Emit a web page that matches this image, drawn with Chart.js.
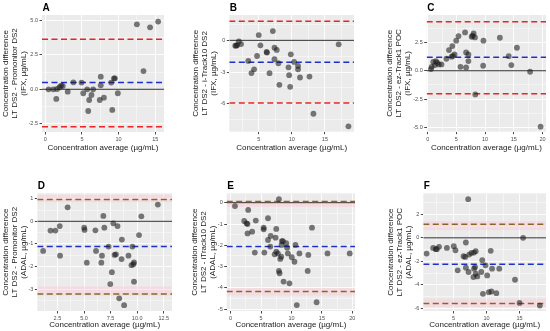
<!DOCTYPE html>
<html>
<head>
<meta charset="utf-8">
<script src="https://cdn.jsdelivr.net/npm/chart.js@4.4.1/dist/chart.umd.min.js"></script>
<style>
  body { margin: 0; background: #fff; }
  #wrap { position: relative; width: 550px; height: 331px; overflow: hidden; }
  canvas { position: absolute; }
</style>
</head>
<body>
<div id="wrap">
  <canvas id="panelA"></canvas>
  <canvas id="panelB"></canvas>
  <canvas id="panelC"></canvas>
  <canvas id="panelD"></canvas>
  <canvas id="panelE"></canvas>
  <canvas id="panelF"></canvas>
</div>
<script>
// ---- data ----
// A: LT DS2 - Promonitor DS2 (IFX)
const aX = [0.45, 1.1, 1.6, 1.5, 1.94, 2.16, 2.39, 3.06, 3.83, 4.95, 5.18, 5.72, 5.86, 5.99, 6.3, 6.53, 7.43, 7.57, 7.57, 8.0, 9.0, 9.14, 9.37, 9.5, 9.9, 12.5, 13.4, 14.3, 15.4];
const aY = [0, 0, 0.02, -0.7, 0.15, 0.27, 0.24, -0.17, 0.51, 0.49, -0.29, 0, -1.58, -0.78, -0.41, 0, -0.78, 0.92, 0.29, -0.61, 0.49, -1.5, 0.8, 0.8, -0.29, 4.73, 1.33, 4.51, 4.93];
const aLoa = [3.64, 0.49, -2.72]; // upper, mean, lower

// B: LT DS2 - i-Track10 DS2 (IFX)
const bX = [1.45, 1.6, 1.75, 2.0, 2.33, 3.42, 3.9, 4.3, 4.75, 5.0, 5.25, 6.19, 6.24, 6.63, 7.13, 7.38, 7.38, 7.72, 7.97, 8.12, 9.5, 9.6, 9.75, 9.85, 10.35, 10.94, 10.94, 11.24, 12.67, 13.27, 17.08, 18.56];
const bY = [-0.5, -0.5, -0.45, -0.1, -0.35, -1.95, -3.1, -2.74, -1.48, 0.5, -0.47, -1.1, -1.16, -3.11, 0.88, -0.69, -1.79, -0.91, -2.17, -4.21, -2.55, -3.3, -4.4, -1.32, -2.04, -2.42, -2.74, -3.52, -3.43, -6.95, -0.38, -8.14];
const bLoa = [1.82, -2.07, -5.94];

// C: LT DS2 - ez-Track1 POC (IFX)
const cX = [0.57, 0.69, 0.97, 1.26, 1.43, 1.66, 1.94, 2.4, 3.26, 3.71, 4.17, 4.29, 4.4, 4.69, 4.97, 5.37, 5.71, 6.51, 6.69, 6.69, 7.09, 7.09, 7.66, 7.83, 8.0, 8.23, 8.29, 9.66, 9.71, 12.57, 14.11, 14.57, 15.54, 17.83, 19.66];
const cY = [0.15, 0.35, 0.79, 0.5, 0.85, 0.71, 0.56, 0.56, 1.06, 1.82, 1.24, 2.18, 1.32, 1.44, 2.65, 3.06, 0.35, 3.38, 1.62, 0.29, 1.44, 0.85, 3.0, 3.09, 3.29, 2.94, -2.09, 0.44, 2.65, 2.91, 1.29, 0.5, 2.03, -0.09, -4.94];
const cLoa = [4.32, 1.18, -2.03];

// D: LT DS2 - Promonitor DS2 (ADAL)
const dX = [1.16, 1.85, 2.31, 2.72, 2.75, 3.46, 5.02, 5.05, 5.26, 6.07, 6.13, 6.63, 6.69, 6.82, 6.91, 7.31, 7.47, 7.62, 7.75, 7.87, 8.0, 8.15, 8.31, 8.53, 8.56, 8.77, 9.18, 9.46, 9.55, 9.64, 9.7, 9.7, 10.17, 10.39, 11.94];
const dY = [-1.31, -0.41, -0.41, -0.21, -1.52, 0.62, -0.28, -0.38, -1.83, -0.4, -1.31, -1.83, -1.52, 0.24, -0.28, -1.12, -2.78, -2.25, -0.09, -1.49, -1.46, -0.21, -3.41, -1.67, -0.81, -3.71, -1.52, -1.94, -1.12, -1.9, -1.82, -2.67, -0.61, 0.22, 0.74];
const dLoa = [0.97, -1.12, -3.22];
const dBands = [[0.85, 1.18], [-3.3, -2.88]];

// E: LT DS2 - iTrack10 DS2 (ADAL)
const eX = [0.71, 2.23, 2.61, 2.77, 2.88, 2.77, 3.53, 4.13, 3.97, 5.43, 5.43, 5.54, 6.14, 6.14, 6.58, 6.52, 7.23, 7.5, 7.39, 7.5, 7.77, 7.93, 7.93, 8.04, 8.15, 8.32, 8.42, 8.59, 8.37, 8.7, 9.13, 9.29, 9.4, 9.67, 10.05, 10.49, 10.65, 10.87, 11.3, 12.66, 12.77, 13.37, 14.13, 15.92, 19.57];
const eY = [-0.16, -0.86, -0.97, -1.0, -0.34, -1.44, -1.36, -0.84, -2.34, -1.17, -1.25, -2.34, -0.73, -1.75, -1.56, -2.06, -2.42, -1.23, -1.64, -2.3, -2.38, 0.16, -3.2, -3.31, -2.64, -2.53, -1.8, -1.8, -1.98, -3.7, -1.9, -2.11, -2.38, -3.78, -2.56, -2.77, -1.98, -4.8, -2.38, -3.2, -2.45, -1.17, -4.67, -2.38, -2.38];
const eLoa = [0.05, -2.06, -4.17];
const eBands = [[-0.2, 0.1], [-4.36, -4.0]];

// F: LT DS2 - ez-Track1 POC (ADAL)
const fX = [0.94, 1.93, 2.33, 2.48, 2.82, 4.01, 5.05, 5.3, 5.64, 6.53, 6.78, 6.88, 6.88, 7.23, 7.28, 7.38, 7.72, 8.02, 8.12, 8.12, 8.27, 8.37, 8.37, 8.61, 9.21, 9.36, 9.46, 9.85, 10.1, 10.35, 10.64, 10.74, 10.84, 11.49, 11.93, 14.31, 15.0, 15.54, 18.07];
const fY = [-1.34, -0.86, -0.97, -0.97, -0.77, -0.86, -0.71, -1.06, -2.77, -1.57, -1.63, -0.4, -2.54, 3.29, -2.91, -1.43, -1.29, -3.34, -1.26, -2.63, -2.49, -1.14, -3.06, -3.29, -2.91, -1.91, -4.77, -2.34, -3.2, -4.63, -1.11, -4.57, -2.63, -4.71, -2.63, -3.57, -5.54, 0, -5.77];
const fLoa = [1.15, -2.25, -5.6];
const fBands = [[0.66, 1.43], [-5.9, -5.18]];

// ---- axis ranges and ticks ----
const aXRange = [-0.45, 16.2], aYRange = [-3.11, 5.41];
const aXTicks = [0, 5, 10, 15], aXLabels = ["0", "5", "10", "15"], aXMinor = [2.5, 7.5, 12.5];
const aYTicks = [-2.5, 0, 2.5, 5], aYLabels = ["-2.5", "0.0", "2.5", "5.0"], aYMinor = [-1.25, 1.25, 3.75];

const bXRange = [0.55, 19.4], bYRange = [-8.65, 2.4];
const bXTicks = [5, 10, 15], bXLabels = ["5", "10", "15"], bXMinor = [2.5, 7.5, 12.5, 17.5];
const bYTicks = [-6, -3, 0], bYLabels = ["-6", "-3", "0"], bYMinor = [-7.5, -4.5, -1.5, 1.5];

const cXRange = [-0.17, 20.6], cYRange = [-5.38, 4.92];
const cXTicks = [0, 5, 10, 15, 20], cXLabels = ["0", "5", "10", "15", "20"], cXMinor = [2.5, 7.5, 12.5, 17.5];
const cYTicks = [-5, -2.5, 0, 2.5], cYLabels = ["-5.0", "-2.5", "0.0", "2.5"], cYMinor = [-3.75, -1.25, 1.25, 3.75];

const dXRange = [0.61, 13.27], dYRange = [-3.97, 1.24];
const dXTicks = [2.5, 5, 7.5, 10, 12.5], dXLabels = ["2.5", "5.0", "7.5", "10.0", "12.5"], dXMinor = [1.25, 3.75, 6.25, 8.75, 11.25];
const dYTicks = [-3, -2, -1, 0, 1], dYLabels = ["-3", "-2", "-1", "0", "1"], dYMinor = [-3.5, -2.5, -1.5, -0.5, 0.5];

const eXRange = [-0.65, 20.44], eYRange = [-5.08, 0.44];
const eXTicks = [0, 5, 10, 15, 20], eXLabels = ["0", "5", "10", "15", "20"], eXMinor = [2.5, 7.5, 12.5, 17.5];
const eYTicks = [-5, -4, -3, -2, -1, 0], eYLabels = ["-5", "-4", "-3", "-2", "-1", "0"], eYMinor = [-4.5, -3.5, -2.5, -1.5, -0.5];

const fXRange = [0.44, 19.0], fYRange = [-6.23, 3.79];
const fXTicks = [5, 10, 15], fXLabels = ["5", "10", "15"], fXMinor = [2.5, 7.5, 12.5, 17.5];
const fYTicks = [-6, -4, -2, 0, 2], fYLabels = ["-6", "-4", "-2", "0", "2"], fYMinor = [-5, -3, -1, 1, 3];

const xTitle = "Concentration average (\u00b5g/mL)";
const yTitleA = ["Concentration difference", "LT DS2 - Promonitor DS2", "(IFX, \u00b5g/mL)"];
const yTitleB = ["Concentration difference", "LT DS2 - i-Track10 DS2", "(IFX, \u00b5g/mL)"];
const yTitleC = ["Concentration difference", "LT DS2 - ez-Track1 POC", "(IFX, \u00b5g/mL)"];
const yTitleD = ["Concentration difference", "LT DS2 - Promonitor DS2", "(ADAL, \u00b5g/mL)"];
const yTitleE = ["Concentration difference", "LT DS2 - iTrack10 DS2", "(ADAL, \u00b5g/mL)"];
const yTitleF = ["Concentration difference", "LT DS2 - ez-Track1 POC", "(ADAL, \u00b5g/mL)"];

// ---- page layout (canvas box, plot box, title centres) ----
const FONT = '"Liberation Sans", Arial, sans-serif';
const RED = "#ec2227", BLUE = "#1e2ec8", BROWN = "#86672a";
const DASH = [6, 3.5];

const near = (arr, v) => arr.findIndex((t) => Math.abs(t - v) < 1e-6);

const decor = {
  id: "decor",
  beforeDraw(chart, args, opts) {
    const { ctx, chartArea: a } = chart;
    ctx.save();
    ctx.fillStyle = "#ebebeb";
    ctx.fillRect(a.left, a.top, a.width, a.height);
    ctx.restore();
  },
  beforeDatasetsDraw(chart, args, opts) {
    const { ctx, chartArea: a } = chart;
    const y = chart.scales.y;
    ctx.save();
    ctx.beginPath();
    ctx.rect(a.left, a.top, a.width, a.height);
    ctx.clip();
    opts.bands.forEach((b) => {
      const y1 = y.getPixelForValue(b[0]);
      const y2 = y.getPixelForValue(b[1]);
      ctx.fillStyle = "rgba(255,200,212,0.42)";
      ctx.fillRect(a.left, Math.min(y1, y2), a.width, Math.abs(y2 - y1));
    });
    const hline = (v, color, width, dash) => {
      const py = y.getPixelForValue(v);
      ctx.beginPath();
      ctx.strokeStyle = color;
      ctx.lineWidth = width;
      ctx.setLineDash(dash);
      ctx.moveTo(a.left, py);
      ctx.lineTo(a.right, py);
      ctx.stroke();
    };
    hline(0, "#1a1a1a", 0.9, []);
    hline(opts.loa[0], opts.limitColor, 1.5, DASH);
    hline(opts.loa[2], opts.limitColor, 1.5, DASH);
    hline(opts.loa[1], BLUE, 1.5, DASH);
    ctx.restore();
  },
  afterDraw(chart, args, opts) {
    const { ctx, chartArea: a } = chart;
    ctx.save();
    ctx.font = "bold 10px " + FONT;
    ctx.fillStyle = "#000";
    ctx.textBaseline = "alphabetic";
    ctx.fillText(opts.letter, a.left + 0.5, a.top - 4);
    ctx.restore();
  },
};

function axis(range, major, labels, minor, fitFn, title) {
  const all = major.concat(minor).sort((p, q) => p - q);
  return {
    type: "linear",
    min: range[0],
    max: range[1],
    afterBuildTicks: (s) => {
      s.ticks = all.map((v) => ({ value: v }));
    },
    afterFit: fitFn,
    border: { display: false },
    grid: {
      color: "#ffffff",
      lineWidth: (c) => (c.tick && near(major, c.tick.value) >= 0 ? 0.9 : 0.45),
      tickColor: (c) => (c.tick && near(major, c.tick.value) >= 0 ? "#333333" : "rgba(0,0,0,0)"),
      tickLength: 2.5,
    },
    ticks: {
      autoSkip: false,
      maxRotation: 0,
      padding: 1.5,
      color: "#4d4d4d",
      font: { size: 5.5, family: FONT },
      callback: (v) => {
        const i = near(major, v);
        return i >= 0 ? labels[i] : "";
      },
    },
    title: title,
  };
}

function makePanel(id, p) {
  const el = document.getElementById(id);
  el.width = p.box.w;
  el.height = p.box.h;
  el.style.left = p.box.x + "px";
  el.style.top = p.box.y + "px";
  const pts = p.xs.map((v, i) => ({ x: v, y: p.ys[i] }));
  return new Chart(el, {
    type: "scatter",
    data: {
      datasets: [
        {
          data: pts,
          backgroundColor: "rgba(28,28,28,0.58)",
          borderWidth: 0,
          pointRadius: 2.9,
        },
      ],
    },
    options: {
      responsive: false,
      animation: false,
      devicePixelRatio: 1,
      layout: {
        padding: {
          left: 0,
          top: p.plot.t - p.box.y,
          right: p.box.x + p.box.w - p.plot.r,
          bottom: 0,
        },
      },
      plugins: {
        legend: { display: false },
        tooltip: { enabled: false },
        decor: { letter: p.letter, loa: p.loa, bands: p.bands || [], limitColor: p.limitColor },
      },
      scales: {
        x: axis(p.xRange, p.xTicks, p.xLabels, p.xMinor,
          (s) => { s.height = p.box.y + p.box.h - p.plot.b; },
          {
            display: true,
            text: xTitle,
            color: "#1a1a1a",
            font: { size: 8, family: FONT, lineHeight: 1.125 },
            padding: { top: 0, bottom: p.box.y + p.box.h - p.xTitleY - 4.5 },
          }),
        y: axis(p.yRange, p.yTicks, p.yLabels, p.yMinor,
          (s) => { s.width = p.plot.l - p.box.x; },
          {
            display: true,
            text: p.yTitle,
            color: "#1a1a1a",
            font: { size: 8, family: FONT, lineHeight: 1.125 },
            padding: { top: p.yTitleX - p.box.x - 4.5, bottom: 0 },
          }),
      },
    },
    plugins: [decor],
  });
}

makePanel("panelA", {
  letter: "A", xs: aX, ys: aY, loa: aLoa, limitColor: RED,
  xRange: aXRange, xTicks: aXTicks, xLabels: aXLabels, xMinor: aXMinor,
  yRange: aYRange, yTicks: aYTicks, yLabels: aYLabels, yMinor: aYMinor, yTitle: yTitleA,
  box: { x: 0, y: 0, w: 168, h: 153 }, plot: { l: 42, t: 15, r: 165, b: 132 }, yTitleX: 6, xTitleY: 147.5,
});
makePanel("panelB", {
  letter: "B", xs: bX, ys: bY, loa: bLoa, limitColor: RED,
  xRange: bXRange, xTicks: bXTicks, xLabels: bXLabels, xMinor: bXMinor,
  yRange: bYRange, yTicks: bYTicks, yLabels: bYLabels, yMinor: bYMinor, yTitle: yTitleB,
  box: { x: 190, y: 0, w: 168, h: 153 }, plot: { l: 229.3, t: 15, r: 355, b: 131.7 }, yTitleX: 196, xTitleY: 147.5,
});
makePanel("panelC", {
  letter: "C", xs: cX, ys: cY, loa: cLoa, limitColor: RED,
  xRange: cXRange, xTicks: cXTicks, xLabels: cXLabels, xMinor: cXMinor,
  yRange: cYRange, yTicks: cYTicks, yLabels: cYLabels, yMinor: cYMinor, yTitle: yTitleC,
  box: { x: 384, y: 0, w: 166, h: 153 }, plot: { l: 426.7, t: 15, r: 548, b: 131.7 }, yTitleX: 390, xTitleY: 147.5,
});
makePanel("panelD", {
  letter: "D", xs: dX, ys: dY, loa: dLoa, bands: dBands, limitColor: BROWN,
  xRange: dXRange, xTicks: dXTicks, xLabels: dXLabels, xMinor: dXMinor,
  yRange: dYRange, yTicks: dYTicks, yLabels: dYLabels, yMinor: dYMinor, yTitle: yTitleD,
  box: { x: 0, y: 165, w: 176, h: 165 }, plot: { l: 37.3, t: 193.3, r: 173.3, b: 311 }, yTitleX: 6, xTitleY: 324.3,
});
makePanel("panelE", {
  letter: "E", xs: eX, ys: eY, loa: eLoa, bands: eBands, limitColor: BROWN,
  xRange: eXRange, xTicks: eXTicks, xLabels: eXLabels, xMinor: eXMinor,
  yRange: eYRange, yTicks: eYTicks, yLabels: eYLabels, yMinor: eYMinor, yTitle: yTitleE,
  box: { x: 188, y: 165, w: 171, h: 165 }, plot: { l: 226.7, t: 193.3, r: 356, b: 311 }, yTitleX: 194.3, xTitleY: 324.3,
});
makePanel("panelF", {
  letter: "F", xs: fX, ys: fY, loa: fLoa, bands: fBands, limitColor: BROWN,
  xRange: fXRange, xTicks: fXTicks, xLabels: fXLabels, xMinor: fXMinor,
  yRange: fYRange, yTicks: fYTicks, yLabels: fYLabels, yMinor: fYMinor, yTitle: yTitleF,
  box: { x: 384, y: 165, w: 166, h: 165 }, plot: { l: 423.3, t: 193.3, r: 548.3, b: 311 }, yTitleX: 390.7, xTitleY: 324.3,
});
</script>
</body>
</html>
